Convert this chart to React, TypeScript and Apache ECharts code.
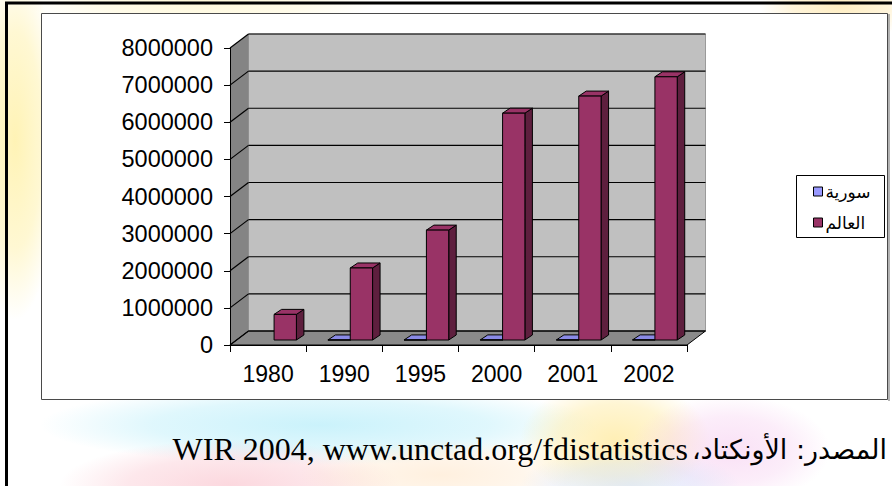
import React, { useEffect, useRef } from "react";
import * as echarts from "echarts";

// Inward FDI stock, world vs. Syria
const years = ["1980", "1990", "1995", "2000", "2001", "2002"];
const syriaValues: (number | null)[] = [null, 1500, 2000, 2900, 3300, 3700];
const worldValues = [690000, 1940000, 2960000, 6110000, 6570000, 7090000];
const yTicks = [0, 1000000, 2000000, 3000000, 4000000, 5000000, 6000000, 7000000, 8000000];
const seriesNames = ["سورية", "العالم"];
const sourceArabic = "المصدر: الأونكتاد،\u200F";
const sourceLatin = "WIR 2004, www.unctad.org/fdistatistics";

// pseudo-3D geometry (pixels)
const WALL_DEPTH: [number, number] = [18.5, -14];
const BAR_SHIFT: [number, number] = [6, -5];
const BAR_DEPTH: [number, number] = [7.5, -5];
const BAR_BAND_FRACTION = 0.293;

type Faces = { front: string; top: string; side: string };
const syriaFaces: Faces = { front: "#9999ff", top: "#8a8ae6", side: "#5c5cb0" };
const worldFaces: Faces = { front: "#993366", top: "#993366", side: "#5e1f3e" };

function barRenderer(leftOfCenter: boolean, faces: Faces) {
  return (params: any, api: any) => {
    const v = api.value(1);
    if (v == null || isNaN(v)) return null;
    const idx = api.value(0);
    const top = api.coord([idx, v]);
    const base = api.coord([idx, 0]);
    const band = api.size([1, 0])[0];
    const w = band * BAR_BAND_FRACTION;
    const cx = top[0] + BAR_SHIFT[0];
    const x0 = leftOfCenter ? cx - w : cx;
    const x1 = x0 + w;
    const yb = base[1] + BAR_SHIFT[1];
    const yt = top[1] + BAR_SHIFT[1];
    const [dx, dy] = BAR_DEPTH;
    const stroke = { stroke: "#000", lineWidth: 1, lineJoin: "round" };
    return {
      type: "group",
      children: [
        {
          type: "polygon",
          shape: { points: [[x1, yb], [x1 + dx, yb + dy], [x1 + dx, yt + dy], [x1, yt]] },
          style: { fill: faces.side, ...stroke },
        },
        {
          type: "polygon",
          shape: { points: [[x0, yt], [x1, yt], [x1 + dx, yt + dy], [x0 + dx, yt + dy]] },
          style: { fill: faces.top, ...stroke },
        },
        {
          type: "polygon",
          shape: { points: [[x0, yb], [x1, yb], [x1, yt], [x0, yt]] },
          style: { fill: faces.front, ...stroke },
        },
      ],
    };
  };
}

function wallsRenderer(params: any) {
  const cs = params.coordSys;
  const x0 = cs.x;
  const x1 = cs.x + cs.width;
  const yT = cs.y;
  const yB = cs.y + cs.height;
  const [dx, dy] = WALL_DEPTH;
  return {
    type: "group",
    children: [
      {
        type: "polygon",
        shape: { points: [[x0 + dx, yT + dy], [x1 + dx, yT + dy], [x1 + dx, yB + dy], [x0 + dx, yB + dy]] },
        style: { fill: "#c0c0c0", stroke: "#9a9a9a", lineWidth: 1 },
      },
      {
        type: "polygon",
        shape: { points: [[x0, yT], [x0 + dx, yT + dy], [x0 + dx, yB + dy], [x0, yB]] },
        style: { fill: "#848484" },
      },
      {
        type: "polygon",
        shape: { points: [[x0, yB], [x0 + dx, yB + dy], [x1 + dx, yB + dy], [x1, yB]] },
        style: { fill: "#8a8a8a", stroke: "#000", lineWidth: 1 },
      },
    ],
  };
}

function gridLineRenderer(params: any, api: any) {
  const cs = params.coordSys;
  const y = api.coord([0, api.value(1)])[1];
  const x0 = cs.x;
  const x1 = cs.x + cs.width;
  const [dx, dy] = WALL_DEPTH;
  return {
    type: "group",
    children: [
      {
        type: "line",
        shape: { x1: x0, y1: y, x2: x0 + dx, y2: y + dy },
        style: { stroke: "#000", lineWidth: 1.2 },
      },
      {
        type: "line",
        shape: { x1: x0 + dx, y1: y + dy, x2: x1 + dx, y2: y + dy },
        style: { stroke: "#000", lineWidth: 1.2 },
      },
    ],
  };
}

function wash(x: number, y: number, w: number, h: number, rgb: string, a: number) {
  return {
    type: "rect",
    silent: true,
    z: 0,
    shape: { x, y, width: w, height: h },
    style: {
      fill: new echarts.graphic.RadialGradient(0.5, 0.5, 0.5, [
        { offset: 0, color: `rgba(${rgb},${a})` },
        { offset: 0.6, color: `rgba(${rgb},${a * 0.6})` },
        { offset: 1, color: `rgba(${rgb},0)` },
      ]),
    },
  };
}

export default function App() {
  const ref = useRef<HTMLDivElement>(null);

  useEffect(() => {
    if (!ref.current) return;
    const chart = echarts.init(ref.current, undefined, { renderer: "svg" });
    const axisFont = "'Liberation Sans', Arial, sans-serif";

    chart.setOption({
      animation: false,
      backgroundColor: "#ffffff",
      grid: { left: 230, top: 48, width: 457, height: 297, containLabel: false },
      xAxis: {
        type: "category",
        data: years,
        boundaryGap: true,
        z: 6,
        axisLine: { show: true, lineStyle: { color: "#000", width: 1 } },
        axisTick: { show: true, length: 7, lineStyle: { color: "#000" } },
        axisLabel: { color: "#000", fontSize: 23, fontFamily: axisFont, margin: 17 },
        splitLine: { show: false },
      },
      yAxis: {
        type: "value",
        min: 0,
        max: 8000000,
        interval: 1000000,
        z: 6,
        axisLine: { show: true, lineStyle: { color: "#000", width: 1 } },
        axisTick: { show: true, length: 6, lineStyle: { color: "#000" } },
        axisLabel: {
          color: "#000",
          fontSize: 23.5,
          fontFamily: axisFont,
          margin: 17,
          formatter: (v: number) => String(v),
        },
        splitLine: { show: false },
      },
      legend: {
        orient: "vertical",
        left: 808,
        top: 178,
        itemWidth: 9,
        itemHeight: 9,
        itemGap: 14,
        icon: "rect",
        data: seriesNames,
        itemStyle: { borderColor: "#000", borderWidth: 1 },
        textStyle: { color: "#000", fontSize: 17, fontFamily: "'DejaVu Sans', sans-serif", padding: [0, 0, 0, -2] },
        z: 10,
      },
      graphic: {
        elements: [
          wash(-30, -40, 90, 360, "255,238,150", 0.7),
          wash(20, -30, 360, 60, "255,242,180", 0.5),
          wash(760, -30, 160, 70, "255,228,160", 0.65),
          wash(40, 385, 560, 80, "185,238,250", 0.75),
          wash(60, 440, 340, 90, "250,195,205", 0.65),
          wash(300, 440, 280, 70, "255,225,190", 0.5),
          wash(520, 380, 190, 120, "255,232,150", 0.7),
          wash(630, 395, 200, 110, "245,200,238", 0.55),
          wash(520, 450, 220, 70, "205,222,250", 0.55),
          {
            type: "rect",
            z: 1,
            silent: true,
            shape: { x: 41.5, y: 13.5, width: 846, height: 386 },
            style: { fill: "#ffffff", stroke: "#4a4a4a", lineWidth: 1 },
          },
          {
            type: "line",
            z: 1,
            silent: true,
            shape: { x1: 889, y1: 14, x2: 889, y2: 401 },
            style: { stroke: "#9a9a9a", lineWidth: 1.5 },
          },
          {
            type: "rect",
            z: 1,
            silent: true,
            shape: { x: 796.5, y: 175.5, width: 88, height: 62 },
            style: { fill: "#ffffff", stroke: "#000", lineWidth: 1 },
          },
          {
            type: "line",
            z: 1,
            silent: true,
            shape: { x1: 5, y1: 3, x2: 892, y2: 3 },
            style: { stroke: "#000", lineWidth: 3 },
          },
          {
            type: "line",
            z: 1,
            silent: true,
            shape: { x1: 6.5, y1: 2, x2: 6.5, y2: 486 },
            style: { stroke: "#000", lineWidth: 3 },
          },
          {
            type: "text",
            z: 5,
            x: 688,
            y: 449,
            style: {
              text: sourceLatin,
              align: "right",
              verticalAlign: "middle",
              fill: "#000",
              fontSize: 32,
              fontFamily: "'Liberation Serif', 'Times New Roman', serif",
            },
          },
          {
            type: "text",
            z: 5,
            x: 887,
            y: 449,
            style: {
              text: sourceArabic,
              align: "right",
              verticalAlign: "middle",
              fill: "#000",
              fontSize: 27,
              fontFamily: "'DejaVu Sans', 'Liberation Serif', serif",
            },
          },
        ],
      },
      series: [
        {
          type: "custom",
          name: "walls",
          silent: true,
          z: 1,
          renderItem: wallsRenderer,
          data: [[0, 0]],
          tooltip: { show: false },
        },
        {
          type: "custom",
          name: "gridlines",
          silent: true,
          z: 1.5,
          renderItem: gridLineRenderer,
          data: yTicks.map((v) => [0, v]),
        },
        {
          type: "custom",
          name: seriesNames[0],
          z: 3,
          itemStyle: { color: syriaFaces.front },
          renderItem: barRenderer(true, syriaFaces),
          data: syriaValues.map((v, i) => [i, v]),
        },
        {
          type: "custom",
          name: seriesNames[1],
          z: 3,
          itemStyle: { color: worldFaces.front },
          renderItem: barRenderer(false, worldFaces),
          data: worldValues.map((v, i) => [i, v]),
        },
      ],
    });

    return () => chart.dispose();
  }, []);

  return (
    <div
      ref={ref}
      style={{ position: "fixed", left: 0, top: 0, width: 892, height: 486 }}
    />
  );
}
